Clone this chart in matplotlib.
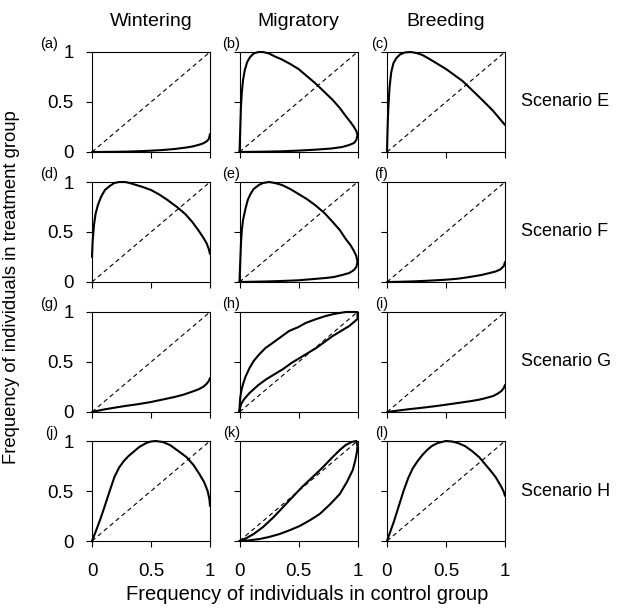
import matplotlib
matplotlib.use("Agg")
import matplotlib.pyplot as plt

plt.rcParams['font.family'] = ['Liberation Sans', 'DejaVu Sans']

columns = ["Wintering", "Migratory", "Breeding"]
scenarios = ["Scenario E", "Scenario F", "Scenario G", "Scenario H"]
letters = ["(a)", "(b)", "(c)", "(d)", "(e)", "(f)", "(g)", "(h)", "(i)", "(j)", "(k)", "(l)"]
tick_vals = [0, 0.5, 1]
tick_text = ["0", "0.5", "1"]

# Curves (x, y) for each panel, row-major order
a_x = [0, 0.1, 0.2, 0.3, 0.4, 0.5, 0.6, 0.7, 0.8, 0.85, 0.9, 0.94, 0.97, 0.99, 1.0]
a_y = [0, 0.001, 0.002, 0.004, 0.008, 0.013, 0.02, 0.03, 0.045, 0.055, 0.07, 0.085, 0.105, 0.13, 0.18]

b_x = [0, 0.003, 0.007, 0.012, 0.02, 0.03, 0.045, 0.065, 0.09, 0.12, 0.16, 0.2, 0.25, 0.3,
       0.36, 0.43, 0.5, 0.57, 0.64, 0.72, 0.79, 0.85, 0.9, 0.94, 0.97, 0.99, 1.0,
       0.99, 0.97, 0.93, 0.87, 0.78, 0.64, 0.5, 0.36, 0.2, 0]
b_y = [0, 0.1, 0.25, 0.45, 0.6, 0.72, 0.82, 0.9, 0.95, 0.985, 1.0, 1.0, 0.985, 0.955,
       0.925, 0.88, 0.83, 0.76, 0.69, 0.6, 0.52, 0.44, 0.36, 0.3, 0.25, 0.21, 0.17,
       0.12, 0.09, 0.07, 0.05, 0.035, 0.023, 0.014, 0.007, 0.003, 0]

c_x = [0, 0.003, 0.008, 0.014, 0.022, 0.036, 0.055, 0.08, 0.11, 0.15, 0.2, 0.25, 0.3, 0.36,
       0.43, 0.5, 0.57, 0.64, 0.72, 0.79, 0.85, 0.9, 0.95, 1.0]
c_y = [0, 0.15, 0.35, 0.5, 0.65, 0.8, 0.89, 0.94, 0.975, 0.995, 1.0, 0.99, 0.97, 0.93,
       0.88, 0.83, 0.77, 0.71, 0.62, 0.54, 0.47, 0.41, 0.34, 0.27]

d_x = [0, 0.005, 0.017, 0.03, 0.05, 0.08, 0.11, 0.15, 0.19, 0.23, 0.28, 0.32, 0.36, 0.43,
       0.5, 0.57, 0.64, 0.72, 0.79, 0.85, 0.9, 0.94, 0.97, 0.99, 1.0]
d_y = [0.25, 0.4, 0.57, 0.68, 0.77, 0.86, 0.92, 0.96, 0.99, 1.0, 1.0, 0.99, 0.975, 0.95,
       0.92, 0.875, 0.82, 0.75, 0.68, 0.6, 0.52, 0.45, 0.39, 0.33, 0.28]

e_x = [0, 0.003, 0.008, 0.013, 0.02, 0.03, 0.05, 0.07, 0.093, 0.12, 0.164, 0.2, 0.25, 0.3,
       0.36, 0.43, 0.5, 0.57, 0.64, 0.72, 0.79, 0.85, 0.9, 0.94, 0.97, 0.99, 1.0,
       0.99, 0.97, 0.93, 0.87, 0.8, 0.73, 0.6, 0.5, 0.35, 0.22, 0]
e_y = [0, 0.1, 0.25, 0.4, 0.52, 0.62, 0.73, 0.82, 0.88, 0.93, 0.97, 0.99, 1.0, 0.99,
       0.97, 0.93, 0.88, 0.83, 0.77, 0.69, 0.6, 0.52, 0.43, 0.37, 0.31, 0.26, 0.2,
       0.15, 0.12, 0.09, 0.07, 0.05, 0.04, 0.027, 0.017, 0.01, 0.005, 0]

f_x = [0, 0.1, 0.22, 0.35, 0.5, 0.6, 0.7, 0.8, 0.87, 0.92, 0.96, 0.99, 1.0]
f_y = [0, 0.002, 0.006, 0.013, 0.023, 0.033, 0.05, 0.07, 0.09, 0.105, 0.125, 0.16, 0.2]

g_x = [0, 0.05, 0.11, 0.2, 0.28, 0.4, 0.5, 0.6, 0.7, 0.78, 0.84, 0.9, 0.94, 0.97, 0.99, 1.0]
g_y = [0, 0.013, 0.027, 0.045, 0.06, 0.08, 0.1, 0.125, 0.15, 0.175, 0.2, 0.225, 0.25, 0.28, 0.31, 0.34]

h_x = [0, 0.002, 0.006, 0.015, 0.03, 0.05, 0.085, 0.12, 0.17, 0.22, 0.28, 0.35, 0.42, 0.5,
       0.56, 0.64, 0.73, 0.8, 0.85, 0.9, 1.0,
       1.0, 0.93, 0.86, 0.79, 0.72, 0.65, 0.58, 0.51, 0.44, 0.37, 0.3, 0.23, 0.16, 0.085,
       0.04, 0.014, 0.004, 0]
h_y = [0, 0.07, 0.14, 0.21, 0.28, 0.35, 0.44, 0.51, 0.58, 0.64, 0.69, 0.75, 0.81, 0.85,
       0.89, 0.925, 0.96, 0.98, 0.99, 1.0, 1.0,
       0.93, 0.86, 0.81, 0.76, 0.7, 0.64, 0.59, 0.54, 0.49, 0.43, 0.38, 0.33, 0.27, 0.19,
       0.13, 0.08, 0.04, 0]

i_x = [0, 0.05, 0.11, 0.2, 0.28, 0.4, 0.5, 0.6, 0.7, 0.78, 0.84, 0.9, 0.94, 0.97, 0.99, 1.0]
i_y = [0, 0.008, 0.017, 0.03, 0.04, 0.057, 0.073, 0.09, 0.107, 0.123, 0.14, 0.16, 0.185, 0.21, 0.24, 0.27]

j_x = [0, 0.03, 0.065, 0.1, 0.15, 0.19, 0.23, 0.27, 0.31, 0.35, 0.4, 0.46, 0.5, 0.54, 0.6,
       0.66, 0.72, 0.8, 0.86, 0.91, 0.95, 0.98, 0.995, 1.0]
j_y = [0, 0.09, 0.2, 0.32, 0.5, 0.64, 0.735, 0.8, 0.85, 0.89, 0.94, 0.98, 0.995, 1.0, 0.99,
       0.96, 0.91, 0.84, 0.76, 0.67, 0.59, 0.5, 0.42, 0.35]

k_x = [0, 0.06, 0.12, 0.2, 0.29, 0.37, 0.45, 0.53, 0.62, 0.7, 0.79, 0.85, 0.9, 0.95, 0.99,
       1.0, 0.995, 0.98, 0.96, 0.91, 0.85, 0.77, 0.68, 0.6, 0.51, 0.43, 0.34, 0.25, 0.17,
       0.08, 0]
k_y = [0, 0.03, 0.07, 0.14, 0.24, 0.34, 0.44, 0.54, 0.64, 0.73, 0.84, 0.91, 0.96, 0.99, 1.0,
       0.95, 0.89, 0.8, 0.71, 0.59, 0.47, 0.37, 0.27, 0.21, 0.15, 0.11, 0.07, 0.04, 0.02,
       0.006, 0]

l_x = [0, 0.03, 0.06, 0.1, 0.14, 0.18, 0.22, 0.26, 0.3, 0.34, 0.38, 0.43, 0.5, 0.55, 0.6,
       0.66, 0.72, 0.78, 0.83, 0.88, 0.92, 0.95, 0.97, 0.99, 1.0]
l_y = [0, 0.1, 0.2, 0.35, 0.5, 0.63, 0.73, 0.8, 0.86, 0.91, 0.95, 0.98, 1.0, 0.995, 0.98,
       0.95, 0.9, 0.84, 0.77, 0.7, 0.64, 0.58, 0.54, 0.49, 0.45]

curves = [(a_x, a_y), (b_x, b_y), (c_x, c_y),
          (d_x, d_y), (e_x, e_y), (f_x, f_y),
          (g_x, g_y), (h_x, h_y), (i_x, i_y),
          (j_x, j_y), (k_x, k_y), (l_x, l_y)]

W, H = 621, 610
fig = plt.figure(figsize=(W / 100, H / 100), dpi=100)

col_left = [92, 239.5, 387]
row_top = [52, 182, 312, 441]
aw, ah = 118, 100
letter_right = [58, 240, 388]

for r in range(4):
    for c in range(3):
        idx = r * 3 + c
        ax = fig.add_axes([col_left[c] / W, (H - row_top[r] - ah) / H, aw / W, ah / H])
        ax.plot([0, 1], [0, 1], ls=(0, (4, 3)), color='black', lw=0.8)
        xs, ys = curves[idx]
        ax.plot(xs, ys, color='black', lw=1.5, clip_on=False,
                solid_joinstyle='round', solid_capstyle='round')
        ax.set_xlim(0, 1)
        ax.set_ylim(0, 1)
        ax.set_xticks(tick_vals)
        ax.set_yticks(tick_vals)
        ax.tick_params(direction='out', length=4, width=0.8, labelsize=13.5)
        ax.tick_params(axis='x', pad=12)
        ax.tick_params(axis='y', pad=9)
        if c == 0:
            ax.set_yticklabels(tick_text)
        else:
            ax.set_yticklabels([])
        if r == 3:
            ax.set_xticklabels(tick_text)
        else:
            ax.set_xticklabels([])
        for s in ax.spines.values():
            s.set_linewidth(0.8)
        fig.text(letter_right[c] / W, 1 - (row_top[r] - 1) / H, letters[idx],
                 ha='right', va='bottom', fontsize=10.5)
        if r == 0:
            fig.text((col_left[c] + aw / 2) / W, 1 - 21 / H, columns[c], ha='center',
                     va='center', fontsize=14)
        if c == 2:
            fig.text(521 / W, 1 - (row_top[r] + ah / 2) / H, scenarios[r], ha='left',
                     va='center', fontsize=13)

fig.text(307 / W, 1 - 595 / H, "Frequency of individuals in control group",
         ha='center', va='center', fontsize=14.5)
fig.text(12 / W, 1 - 287 / H, "Frequency of individuals in treatment group",
         ha='center', va='center', rotation=90, fontsize=13.3)

fig.savefig("out.png", dpi=100)
